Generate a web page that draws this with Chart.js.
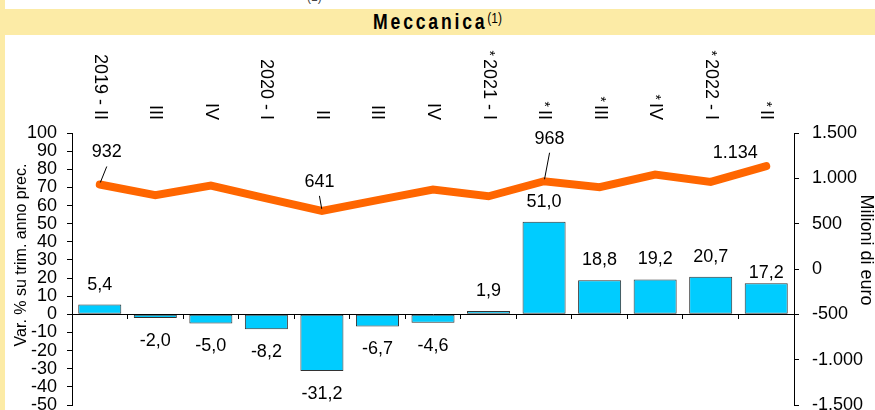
<!DOCTYPE html>
<html><head><meta charset="utf-8">
<script src="https://cdn.jsdelivr.net/npm/chart.js@4/dist/chart.umd.min.js"></script>
<style>
html,body{margin:0;padding:0;background:#fff;}
#wrap{position:relative;width:875px;height:410px;overflow:hidden;background:#fff;}
#band{position:absolute;left:0;top:9px;width:875px;height:26px;background:#FCEBA6;}
#strip{position:absolute;left:0;top:0;width:5px;height:410px;background:#FCEBA6;}
#title{position:absolute;left:0;top:9px;width:875px;height:26px;line-height:26px;text-align:center;color:#000;white-space:nowrap;}
#title .in{display:inline-block;transform:scaleX(0.8);transform-origin:center;font:bold 22px "Liberation Sans",Arial,sans-serif;letter-spacing:3.5px;}
#title .sup{position:relative;top:-6px;font-weight:normal;font-size:15px;letter-spacing:0;}
#frag{position:absolute;left:307px;top:-10px;font:12px "Liberation Sans",Arial,sans-serif;color:#444;}
#c{position:absolute;left:0;top:0;}
</style></head>
<body>
<div id="wrap">
  <div id="band"></div>
  <div id="strip"></div>
  <div id="frag">(1)</div>
  <div id="title"><span class="in">Meccanica<span class="sup">(1)</span></span></div>
  <canvas id="c" width="875" height="410"></canvas>
</div>
<script>
// ---- data ----
const categories = ["2019 - II","III","IV","2020 - I","II","III","IV","2021 - I","II","III","IV","2022 - I","II"];
const provisional = [false,false,false,false,false,false,false,true,true,true,true,true,true];
const varPct = [5.4,-2.0,-5.0,-8.2,-31.2,-6.7,-4.6,1.9,51.0,18.8,19.2,20.7,17.2];
const milioniEuro = [932,813,920,780,641,760,876,802,968,902,1042,960,1134];
const labelledPoints = [0,4,8,12];
const leftTickRange = [-50,100,10];
const rightTickRange = [-1500,1500,500];
const leftTitle = "Var. % su trim. anno prec.";
const rightTitle = "Milioni di euro";

const FONT = "'Liberation Sans', Arial, sans-serif";
function fmtComma(v){ return v.toFixed(1).replace('.', ','); }
function fmtThousands(v){
  const s = String(Math.abs(Math.round(v))).replace(/\B(?=(\d{3})+(?!\d))/g, '.');
  return (v < 0 ? '-' : '') + s;
}

// style tweaks for annotation placement
const barLabelShift = {12: 10};
const lineLabelPlace = {
  0: {dx: 7, dy: -32, lead: true},
  4: {dx: -2.5, dy: -29, lead: true},
  8: {dx: 5.5, dy: -42.5, lead: true},
  12: {dx: -31, dy: -13.5, lead: false}
};

const annotate = {
  id: 'annotate',
  afterDatasetsDraw(chart) {
    const ctx = chart.ctx;
    ctx.save();
    ctx.fillStyle = '#000';
    ctx.font = '18px ' + FONT;
    ctx.textAlign = 'center';
    ctx.textBaseline = 'middle';
    const bars = chart.getDatasetMeta(0).data;
    bars.forEach((el, i) => {
      const v = varPct[i];
      let y = v >= 0 ? el.y - 20 : el.y + 23;
      if (barLabelShift[i]) y += barLabelShift[i];
      ctx.fillText(fmtComma(v), el.x, y);
    });
    const pts = chart.getDatasetMeta(1).data;
    labelledPoints.forEach(i => {
      const p = pts[i], pl = lineLabelPlace[i];
      const lx = p.x + pl.dx, ly = p.y + pl.dy;
      ctx.fillText(fmtThousands(milioniEuro[i]), lx, ly);
      if (pl.lead) {
        ctx.beginPath();
        ctx.strokeStyle = '#000';
        ctx.lineWidth = 1;
        ctx.moveTo(lx, ly + 14);
        ctx.lineTo(p.x + (lx - p.x) * 0.08, p.y - 2);
        ctx.stroke();
      }
    });
    ctx.restore();
  },
  afterDraw(chart) {
    const ctx = chart.ctx;
    const xs = chart.scales.x;
    ctx.save();
    ctx.fillStyle = '#000';
    categories.forEach((lab, i) => {
      const x = xs.getPixelForValue(i);
      ctx.save();
      ctx.translate(x, 120);
      ctx.rotate(Math.PI / 2);
      ctx.font = '18px ' + FONT;
      ctx.textAlign = 'right';
      ctx.textBaseline = 'middle';
      ctx.fillText(lab, 0, 0);
      if (provisional[i]) {
        const w = ctx.measureText(lab).width;
        ctx.font = '14px ' + FONT;
        ctx.fillText('*', -w - 3, 0);
      }
      ctx.restore();
    });
    ctx.textAlign = 'center';
    ctx.textBaseline = 'middle';
    ctx.save();
    ctx.translate(22, 255);
    ctx.rotate(-Math.PI / 2);
    ctx.font = '16px ' + FONT;
    ctx.fillText(leftTitle, 0, 0);
    ctx.restore();
    ctx.save();
    ctx.translate(866, 250);
    ctx.rotate(Math.PI / 2);
    ctx.font = '18px ' + FONT;
    ctx.fillText(rightTitle, 0, 0);
    ctx.restore();
    ctx.restore();
  }
};

function fixWidth(w) {
  return function(scale) {
    scale.width = w;
    scale.paddingTop = 0;
    scale.paddingBottom = 0;
  };
}

new Chart(document.getElementById('c'), {
  type: 'bar',
  data: {
    labels: categories,
    datasets: [
      {
        type: 'bar',
        data: varPct,
        yAxisID: 'y',
        backgroundColor: '#00CCFF',
        borderColor: '#333333',
        borderWidth: 1,
        borderSkipped: false,
        categoryPercentage: 1,
        barPercentage: 0.775,
        order: 2
      },
      {
        type: 'line',
        data: milioniEuro,
        yAxisID: 'y2',
        borderColor: '#FF6600',
        borderWidth: 8,
        pointRadius: 0,
        tension: 0,
        borderCapStyle: 'round',
        borderJoinStyle: 'miter',
        fill: false,
        order: 1
      }
    ]
  },
  options: {
    responsive: false,
    devicePixelRatio: 1,
    animation: false,
    layout: { padding: { top: 133, bottom: 5, left: 0, right: 0 } },
    plugins: { legend: { display: false }, tooltip: { enabled: false }, title: { display: false } },
    scales: {
      x: {
        type: 'category',
        position: { y: 0 },
        offset: true,
        ticks: { display: false },
        grid: { display: true, offset: true, drawOnChartArea: false, drawTicks: true, tickLength: 4, color: '#000', lineWidth: 1 },
        border: { display: true, color: '#000', width: 1 }
      },
      y: {
        position: 'left',
        min: leftTickRange[0],
        max: leftTickRange[1],
        ticks: { stepSize: leftTickRange[2], autoSkip: false, color: '#000', font: { family: FONT, size: 18 }, padding: 10 },
        grid: { drawOnChartArea: false, drawTicks: true, tickLength: 5, color: '#000' },
        border: { display: true, color: '#000', width: 1 },
        afterFit: fixWidth(72)
      },
      y2: {
        position: 'right',
        min: rightTickRange[0],
        max: rightTickRange[1],
        ticks: { stepSize: rightTickRange[2], autoSkip: false, color: '#000', font: { family: FONT, size: 18 }, padding: 13,
                 callback: v => fmtThousands(v) },
        grid: { drawOnChartArea: false, drawTicks: true, tickLength: 5, color: '#000' },
        border: { display: true, color: '#000', width: 1 },
        afterFit: fixWidth(81)
      }
    }
  },
  plugins: [annotate]
});
</script>
</body></html>
